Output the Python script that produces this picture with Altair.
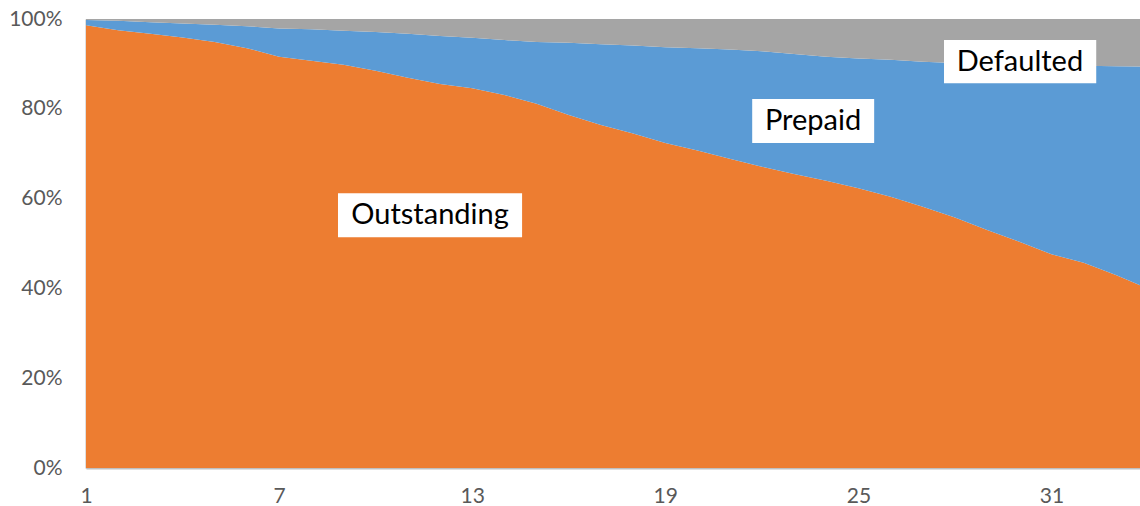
import altair as alt
import pandas as pd

periods = list(range(1, 35))
outstanding = [98.6, 97.5, 96.7, 95.9, 94.9, 93.5, 91.6, 90.7, 89.8, 88.5,
               86.9, 85.5, 84.6, 83.1, 81.1, 78.6, 76.4, 74.5, 72.4, 70.7,
               68.9, 67.1, 65.5, 64.0, 62.3, 60.4, 58.2, 55.8, 53.0, 50.4,
               47.6, 45.7, 43.0, 39.9]
prepaid = [1.2, 2.1, 2.6, 3.1, 3.8, 4.9, 6.3, 7.0, 7.6, 8.6,
           9.8, 10.7, 11.2, 12.2, 13.8, 16.1, 18.0, 19.6, 21.3, 22.8,
           24.3, 25.7, 26.7, 27.6, 28.9, 30.5, 32.3, 34.4, 36.9, 39.4,
           42.0, 43.9, 46.5, 49.5]
defaulted = [0.2, 0.4, 0.7, 1.0, 1.3, 1.6, 2.1, 2.3, 2.6, 2.9,
             3.3, 3.8, 4.2, 4.7, 5.1, 5.3, 5.6, 5.9, 6.3, 6.5,
             6.8, 7.2, 7.8, 8.4, 8.8, 9.1, 9.5, 9.8, 10.1, 10.2,
             10.4, 10.4, 10.5, 10.6]

series_names = ["Outstanding", "Prepaid", "Defaulted"]
series_colors = ["#ED7D31", "#5B9BD5", "#A5A5A5"]

x_ticks = [1, 7, 13, 19, 25, 31]
y_ticks = [0, 20, 40, 60, 80, 100]

# annotation labels (in data units)
label_text = ["Outstanding", "Prepaid", "Defaulted"]
label_x = [11.69, 23.59, 30.02]
label_y = [56.3, 77.3, 90.5]
box_x1 = [8.83, 21.70, 27.66]
box_x2 = [14.55, 25.49, 32.39]
box_y1 = [51.4, 72.4, 85.7]
box_y2 = [61.2, 82.2, 95.3]

rows = []
for k, (name, vals) in enumerate(zip(series_names, [outstanding, prepaid, defaulted])):
    for p, v in zip(periods, vals):
        rows.append({"period": p, "series": name, "value": v, "ord": k})
df = pd.DataFrame(rows)

labels = pd.DataFrame({
    "text": label_text, "lx": label_x, "ly": label_y,
    "bx1": box_x1, "bx2": box_x2, "by1": box_y1, "by2": box_y2,
})

x_scale = alt.Scale(domain=[1, 33.75], nice=False, zero=False)
y_scale = alt.Scale(domain=[0, 100], nice=False)

font = "Lato"
x_axis = alt.Axis(values=x_ticks, title=None, grid=False, ticks=False, tickSize=0,
                  domainColor="#BFBFBF", domainWidth=2, labelFont=font,
                  labelFontSize=21, labelColor="#595959", labelPadding=17,
                  labelFlush=False)
y_axis = alt.Axis(values=y_ticks, title=None, grid=True, gridColor="#D9D9D9",
                  gridWidth=1, ticks=False, tickSize=0, domainColor="#BFBFBF",
                  domainWidth=2, labelFont=font, labelFontSize=21,
                  labelColor="#595959", labelPadding=24,
                  labelExpr="datum.value + '%'")

area = alt.Chart(df).mark_area(clip=True, interpolate="linear").encode(
    x=alt.X("period:Q", scale=x_scale, axis=x_axis),
    y=alt.Y("value:Q", stack="zero", scale=y_scale, axis=y_axis),
    color=alt.Color("series:N", scale=alt.Scale(domain=series_names, range=series_colors), legend=None),
    order=alt.Order("ord:Q"),
)

boxes = alt.Chart(labels).mark_rect(color="white", clip=True).encode(
    x=alt.X("bx1:Q", scale=x_scale, axis=x_axis),
    x2="bx2:Q",
    y=alt.Y("by1:Q", scale=y_scale, axis=y_axis),
    y2="by2:Q",
)

texts = alt.Chart(labels).mark_text(font=font, fontSize=29, color="black",
                                    align="center", baseline="middle").encode(
    x=alt.X("lx:Q", scale=x_scale, axis=x_axis),
    y=alt.Y("ly:Q", scale=y_scale, axis=y_axis),
    text="text:N",
)

chart = alt.layer(area, boxes, texts).properties(
    width=1054, height=449,
    autosize=alt.AutoSizeParams(type="none"),
    padding={"left": 86, "top": 19, "right": 0, "bottom": 38},
).configure_view(stroke=None).configure(background="white")

chart.save("out.html", embed_options={"renderer": "svg", "actions": False})
